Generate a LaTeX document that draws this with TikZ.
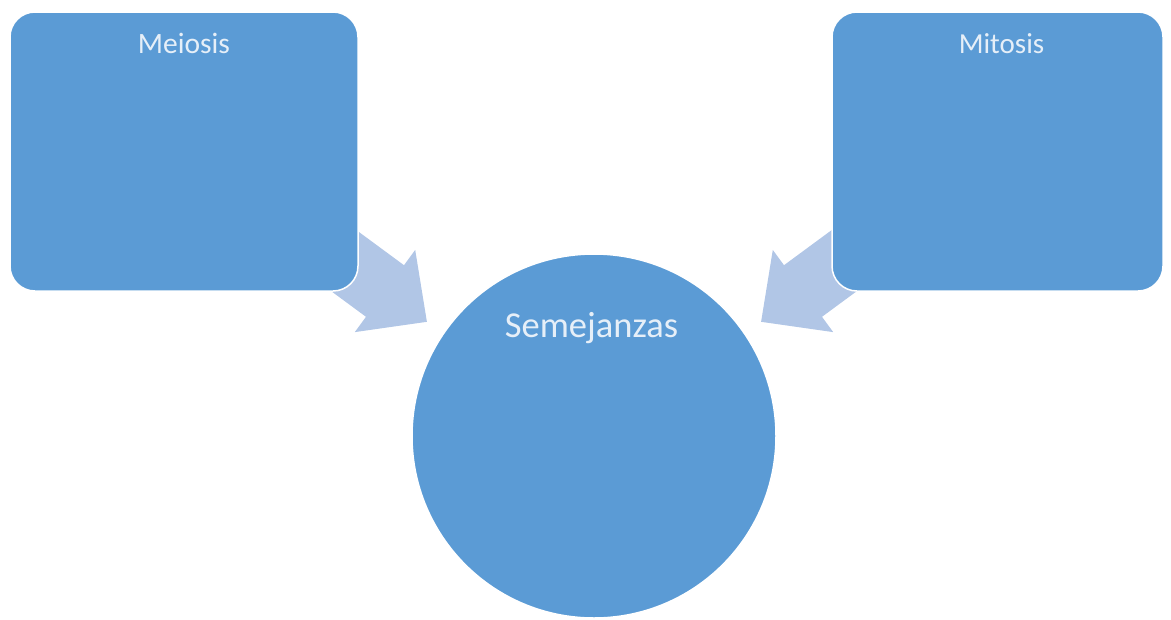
\documentclass[tikz,border=0pt]{standalone}
\usepackage{fontspec}
\setmainfont{Carlito}
\definecolor{boxblue}{HTML}{5B9BD5}
\definecolor{arrowblue}{HTML}{B1C6E6}
\definecolor{txt}{HTML}{E6EFF8}
\tikzset{
  blockbox/.style={fill=boxblue, draw=white, line width=1.5pt, rounded corners=25pt,
    minimum height=279pt, inner sep=0pt},
  bigcircle/.style={circle, fill=boxblue, draw=white, line width=1.5pt, minimum size=364pt, inner sep=0pt},
  lbl/.style={text=txt, anchor=base, inner sep=0pt},
  blockarrow/.style={fill=arrowblue}
}
\begin{document}
\begin{tikzpicture}[x=1pt,y=-1pt]
\useasboundingbox (0,0) rectangle (1171,619);
% block arrows (drawn first, partly hidden by the boxes)
\fill[blockarrow] (323.5,205.9) -- (404,265.2) -- (415.2,249.9) -- (426.9,321.8)
  -- (354.8,332.1) -- (366,316.8) -- (285.5,257.5) -- cycle;
\fill[blockarrow] (864.5,205.9) -- (784,265.2) -- (772.8,249.9) -- (761.1,321.8)
  -- (833.2,332.1) -- (822,316.8) -- (902.5,257.5) -- cycle;
% boxes
\node[blockbox, minimum width=348pt] (meiosis) at (184,151.5) {};
\node[blockbox, minimum width=331pt] (mitosis) at (997.5,151.5) {};
\node[bigcircle] (sem) at (594,436) {};
% labels
\node[lbl, font=\fontsize{29.5}{31}\selectfont] (meiosislbl) at (184,53) {Meiosis};
\node[lbl, font=\fontsize{29}{31}\selectfont] (mitosislbl) at (1001.5,53) {Mitosis};
\node[lbl, font=\fontsize{36.5}{38}\selectfont] (semlbl) at (591.5,337) {Semejanzas};
\end{tikzpicture}
\end{document}
